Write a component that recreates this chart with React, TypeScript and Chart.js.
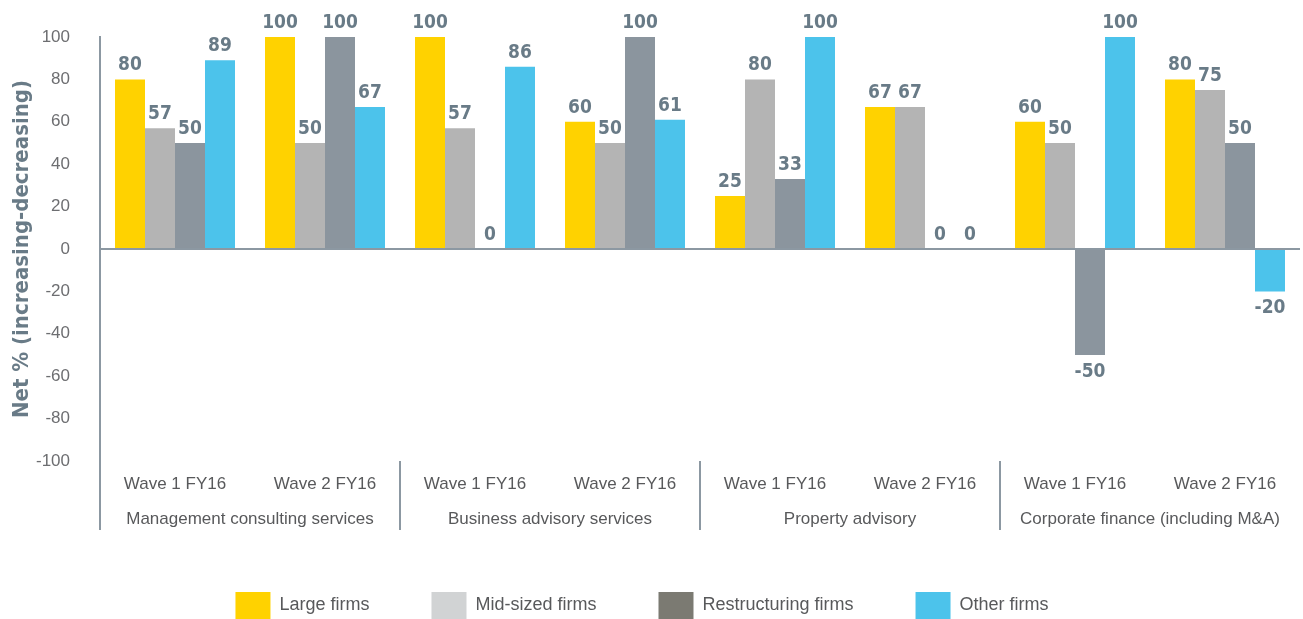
import React, { useEffect, useRef } from 'react';
import { Chart, registerables } from 'chart.js';

Chart.register(...registerables);

const categories = [
  'Wave 1 FY16', 'Wave 2 FY16',
  'Wave 1 FY16', 'Wave 2 FY16',
  'Wave 1 FY16', 'Wave 2 FY16',
  'Wave 1 FY16', 'Wave 2 FY16',
];
const groups = [
  'Management consulting services',
  'Business advisory services',
  'Property advisory',
  'Corporate finance (including M&A)',
];
const seriesNames = ['Large firms', 'Mid-sized firms', 'Restructuring firms', 'Other firms'];
const largeFirms = [80, 100, 100, 60, 25, 67, 60, 80];
const midSizedFirms = [57, 50, 57, 50, 80, 67, 50, 75];
const restructuringFirms = [50, 100, 0, 100, 33, 0, -50, 50];
const otherFirms = [89, 67, 86, 61, 100, 0, 100, -20];
const yMin = -100;
const yMax = 100;
const yStep = 20;

const barColors = ['#FFD200', '#B4B4B4', '#8B959E', '#4CC3EB'];
const legendColors = ['#FFD200', '#D1D3D4', '#7B7A72', '#4CC3EB'];
const axisColor = '#8C98A2';
const labelColor = '#697B87';
const textColor = '#58595B';

const valueLabelsPlugin = {
  id: 'valueLabels',
  afterDatasetsDraw(chart: any) {
    const ctx = chart.ctx;
    ctx.save();
    ctx.font = 'bold 19px "DejaVu Sans Condensed", "DejaVu Sans", sans-serif';
    ctx.fillStyle = labelColor;
    ctx.textAlign = 'center';
    ctx.textBaseline = 'alphabetic';
    chart.data.datasets.forEach((ds: any, di: number) => {
      const meta = chart.getDatasetMeta(di);
      meta.data.forEach((el: any, i: number) => {
        const v = ds.data[i];
        if (v >= 0) {
          ctx.fillText(String(v), el.x, el.y - 9);
        } else {
          ctx.fillText(String(v), el.x, el.y + 22);
        }
      });
    });
    ctx.restore();
  },
};

const separatorsPlugin = {
  id: 'groupSeparators',
  afterLayout(chart: any) {
    if (chart.legend) {
      chart.legend.left -= 8;
      chart.legend.right -= 8;
    }
  },
  afterDraw(chart: any) {
    const x = chart.scales.x;
    const ctx = chart.ctx;
    ctx.save();
    ctx.strokeStyle = axisColor;
    ctx.lineWidth = 2;
    for (let g = 0; g < groups.length; g++) {
      const px = Math.round(x.getPixelForValue(g * 2 - 0.5));
      ctx.beginPath();
      ctx.moveTo(px, chart.chartArea.bottom);
      ctx.lineTo(px, chart.chartArea.bottom + 69);
      ctx.stroke();
    }
    ctx.restore();
  },
};

export default function App() {
  const canvasRef = useRef<HTMLCanvasElement>(null);

  useEffect(() => {
    document.body.style.margin = '0';
    const canvas = canvasRef.current;
    if (!canvas) return;
    const seriesData = [largeFirms, midSizedFirms, restructuringFirms, otherFirms];
    const chart = new Chart(canvas, {
      type: 'bar',
      data: {
        labels: categories,
        datasets: seriesData.map((d, i) => ({
          label: seriesNames[i],
          data: d,
          backgroundColor: barColors[i],
          borderWidth: 0,
          categoryPercentage: 0.8,
          barPercentage: 1.0,
        })),
      },
      options: {
        responsive: false,
        animation: false,
        devicePixelRatio: 1,
        layout: { padding: { top: 37, right: 3, left: 0, bottom: -10 } },
        plugins: {
          tooltip: { enabled: false },
          legend: {
            position: 'bottom',
            labels: {
              boxWidth: 35,
              boxHeight: 27,
              padding: 62,
              color: textColor,
              font: { family: '"Liberation Sans", Arial, sans-serif', size: 18 },
              generateLabels: (chart: any) =>
                chart.data.datasets.map((ds: any, i: number) => ({
                  text: ds.label,
                  fillStyle: legendColors[i],
                  strokeStyle: legendColors[i],
                  lineWidth: 0,
                  hidden: false,
                  datasetIndex: i,
                  fontColor: textColor,
                })),
            },
          },
        },
        scales: {
          x: {
            position: 'bottom',
            offset: true,
            grid: { display: false },
            border: { display: false },
            ticks: {
              color: textColor,
              padding: 5,
              maxRotation: 0,
              autoSkip: false,
              font: { family: '"Liberation Sans", Arial, sans-serif', size: 17 },
            },
            afterFit: (s: any) => { s.height = 29; },
          },
          x2: {
            type: 'category',
            position: 'bottom',
            labels: groups,
            offset: true,
            grid: { display: false },
            border: { display: false },
            ticks: {
              color: textColor,
              padding: 11,
              maxRotation: 0,
              autoSkip: false,
              font: { family: '"Liberation Sans", Arial, sans-serif', size: 17 },
            },
            afterFit: (s: any) => { s.height = 40; },
          },
          y: {
            min: yMin,
            max: yMax,
            ticks: {
              stepSize: yStep,
              padding: 0,
              color: '#6D6E71',
              font: { family: '"Liberation Sans", Arial, sans-serif', size: 17 },
            },
            grid: {
              drawTicks: true,
              tickLength: 30,
              tickColor: 'rgba(0,0,0,0)',
              lineWidth: 2,
              color: (c: any) => (c.tick && c.tick.value === 0 ? axisColor : 'rgba(0,0,0,0)'),
            },
            border: { display: true, color: axisColor, width: 2 },
            title: {
              display: true,
              text: 'Net % (increasing-decreasing)',
              color: labelColor,
              padding: { top: 9, bottom: 0 },
              font: { family: '"DejaVu Sans Condensed", "DejaVu Sans", sans-serif', size: 22, weight: 'bold' },
            },
            afterFit: (s: any) => { s.width = 100; },
          },
        },
      },
      plugins: [valueLabelsPlugin, separatorsPlugin],
    } as any);
    return () => chart.destroy();
  }, []);

  return (
    <div style={{ width: 1303, height: 619 }}>
      <canvas ref={canvasRef} width={1303} height={619} />
    </div>
  );
}
